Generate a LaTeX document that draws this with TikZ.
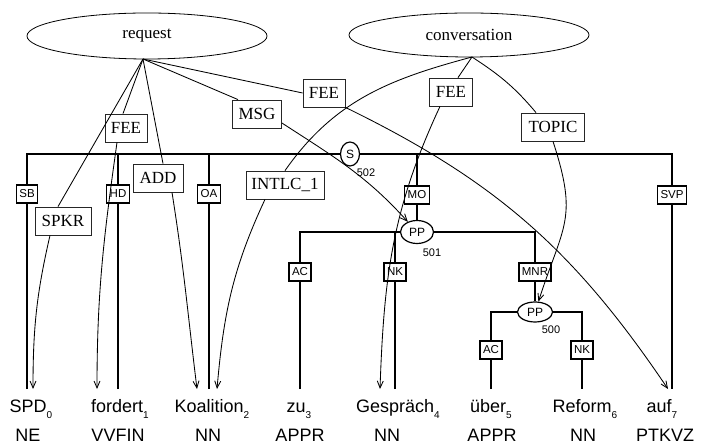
\documentclass[tikz,border=0pt]{standalone}
\usepackage{fontspec}
\setmainfont{Liberation Serif}
\setsansfont{Liberation Sans}
\usetikzlibrary{arrows.meta,shapes.geometric,backgrounds}
% lowered word index
\newcommand\wsub[1]{\raisebox{-6pt}{\fontsize{10}{10}\selectfont #1}}

\begin{document}
\begin{tikzpicture}[x=1pt,y=1pt,
  frame/.style={draw, ellipse, line width=0.8pt, minimum width=240pt, minimum height=46pt, inner sep=0pt,
                font=\fontsize{17}{17}\selectfont},
  role/.style={draw=black!85, line width=0.8pt, fill=white, inner xsep=4pt, inner ysep=0pt,
               minimum height=28pt, font=\fontsize{17}{17}\selectfont},
  link/.style={line width=0.85pt},
  linkarrow/.style={link, -{Straight Barb[length=7pt,width=6pt]}},
  tree/.style={line width=1.5pt},
  cat/.style={draw, ellipse, line width=1.2pt, fill=white, inner sep=0pt,
              font=\sffamily\fontsize{12}{12}\selectfont},
  func/.style={draw, line width=1.3pt, fill=white, inner xsep=3pt, inner ysep=0pt,
               minimum height=18pt, font=\sffamily\fontsize{11.5}{11.5}\selectfont},
  nodeid/.style={inner sep=0pt, font=\sffamily\fontsize{11}{11}\selectfont},
  word/.style={anchor=base, inner sep=0pt, font=\sffamily\fontsize{18}{18}\selectfont},
]
\useasboundingbox (0,0) rectangle (703,444);

% frames
\node[frame] (request) at (147,408) {request};
\node[frame, minimum height=44pt] (conversation) at (469,409) {conversation};
\coordinate (reqp) at (143,385);
\coordinate (convp) at (472,387);

% syntactic categories
\node[cat, minimum width=19pt, minimum height=24pt] (s502) at (350,290) {S};
\node[nodeid] (n502) at (366,271) {502};
\node[cat, minimum width=33pt, minimum height=23pt] (pp501) at (417,212) {PP};
\node[nodeid] (n501) at (432,191) {501};
\node[cat, minimum width=35pt, minimum height=20pt] (pp500) at (535,132) {PP};
\node[nodeid] (n500) at (551,114) {500};

% lower ends of the tree edges
\coordinate (t0) at (27,55);
\coordinate (t1) at (118,55);
\coordinate (t2) at (209,55);
\coordinate (t3) at (300,55);
\coordinate (t4) at (395,55);
\coordinate (t5) at (491,55);
\coordinate (t6) at (582,55);
\coordinate (t7) at (672,55);

\begin{pgfonlayer}{background}
  \fill[white] (0,0) rectangle (703,444);
  \draw[tree] (t0) |- (s502.west);
  \draw[tree] (s502.east) -| (t7);
  \draw[tree] (t1) -- (t1 |- s502);
  \draw[tree] (t2) -- (t2 |- s502);
  \draw[tree] (pp501.north) -- (pp501 |- s502);
  \draw[tree] (t3) |- (pp501.west);
  \draw[tree] (pp501.east) -| (pp500.north);
  \draw[tree] (t4) -- (t4 |- pp501);
  \draw[tree] (t5) |- (pp500.west);
  \draw[tree] (pp500.east) -| (t6);
\end{pgfonlayer}

% edge labels
\node[func] (fSB)  at (27,250)  {SB};
\node[func] (fHD)  at (118,250) {HD};
\node[func] (fOA)  at (209,250) {OA};
\node[func] (fMO)  at (417,249) {MO};
\node[func] (fSVP) at (672,249) {SVP};
\node[func] (fAC)  at (300,172) {AC};
\node[func] (fNK)  at (395,172) {NK};
\node[func] (fMNR) at (535,172) {MNR};
\node[func] (fAC2) at (491,94)  {AC};
\node[func] (fNK2) at (582,94)  {NK};

% words and tags
\node[word] (w0) at (31,32)  {SPD\wsub{0}};
\node[word] (w1) at (120,32) {fordert\wsub{1}};
\node[word] (w2) at (212,32) {Koalition\wsub{2}};
\node[word] (w3) at (299,32) {zu\wsub{3}};
\node[word] (w4) at (398,32) {Gespräch\wsub{4}};
\node[word] (w5) at (491,32) {über\wsub{5}};
\node[word] (w6) at (585,32) {Reform\wsub{6}};
\node[word] (w7) at (662,32) {auf\wsub{7}};
\node[word] (p0) at (28,3)  {NE};
\node[word] (p1) at (118,3) {VVFIN};
\node[word] (p2) at (208,3) {NN};
\node[word] (p3) at (300,3) {APPR};
\node[word] (p4) at (387,3) {NN};
\node[word] (p5) at (492,3) {APPR};
\node[word] (p6) at (583,3) {NN};
\node[word] (p7) at (665,3) {PTKVZ};

% frame element labels
\node[role, minimum width=42pt] (feeA)  at (126,316) {FEE};
\node[role, minimum width=56pt] (spkr)  at (63,223)  {SPKR};
\node[role, minimum width=50pt] (add)   at (158,266) {ADD};
\node[role, minimum width=49pt] (msg)   at (257,330) {MSG};
\node[role, minimum width=42pt] (feeB)  at (324,351) {FEE};
\node[role, minimum width=78pt] (intlc) at (285,259) {INTLC\_1};
\node[role, minimum width=43pt] (feeC)  at (451,352) {FEE};
\node[role, minimum width=63pt] (topic) at (553,317) {TOPIC};

% arrow targets above the words
\coordinate (a0)  at (33,55);
\coordinate (a1)  at (97,55);
\coordinate (a2)  at (197,55);
\coordinate (a2b) at (217,55);
\coordinate (a4)  at (380,55);
\coordinate (a7)  at (668,55);

% request links
\draw[link] (reqp) -- ([xshift=-5pt]spkr.north);
\draw[linkarrow] ([xshift=-13pt]spkr.south) to[out=-103,in=90] (a0);
\draw[link] (reqp) -- ([xshift=-3pt]feeA.north);
\draw[linkarrow] ([xshift=-9pt]feeA.south) to[out=-98,in=90] (a1);
\draw[link] (reqp) -- ([xshift=5pt]add.north);
\draw[linkarrow] ([xshift=14pt]add.south) to[out=-81,in=97] (a2);
\draw[link] (reqp) -- ([xshift=-19pt]msg.north);
\draw[linkarrow] ([yshift=-9pt]msg.east) to[out=-33,in=132] (pp501);
\draw[link] (reqp) -- (feeB.west);
\draw[linkarrow] (feeB.south east) to[out=-26,in=124] (a7);

% conversation links
\draw[link] (convp) to[out=195,in=55] (intlc.north);
\draw[linkarrow] ([xshift=-20pt]intlc.south) to[out=-115,in=85] (a2b);
\draw[link] (convp) -- ([xshift=7pt]feeC.north);
\draw[linkarrow] ([xshift=-11pt]feeC.south) to[out=-115,in=88] (a4);
\draw[link] (convp) to[out=-33,in=130] ([xshift=-17pt]topic.north);
\draw[linkarrow] (topic.south) to[out=-72,in=72,looseness=1.3] (pp500);
\end{tikzpicture}
\end{document}
